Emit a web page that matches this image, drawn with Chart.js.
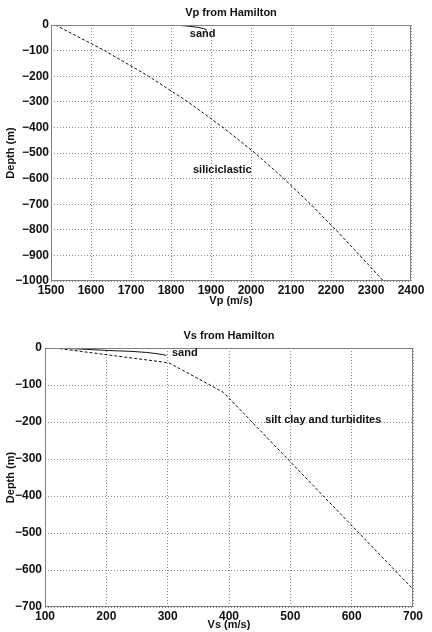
<!DOCTYPE html>
<html>
<head>
<meta charset="utf-8">
<script src="https://cdn.jsdelivr.net/npm/chart.js@4/dist/chart.umd.min.js"></script>
<style>
  body { margin: 0; background: #fff; }
  canvas { position: absolute; left: 0; }
</style>
</head>
<body>
<canvas id="chartVp" width="432" height="316" style="top:0"></canvas>
<canvas id="chartVs" width="432" height="316" style="top:316px"></canvas>
<script>
// Vp panel (m/s vs depth m)
const vpDepth = [0, -100, -200, -300, -400, -500, -600, -700, -800, -900, -1000];
const vpSiliciclastic = [1511, 1634, 1744, 1842, 1930, 2010, 2082, 2149, 2212, 2272, 2331];
const vpSandDepth = [0, -4, -9, -14, -20];
const vpSand = [1806, 1840, 1866, 1882, 1890];

// Vs panel
const vsSiltDepth = [0, -40, -120, -650];
const vsSilt = [116, 302, 391, 699];
const vsSandDepth = [0, -3, -7, -9, -12, -16, -20];
const vsSand = [116, 160, 206, 240, 266, 285, 298];

const toPoints = (xs, ys) => xs.map((x, i) => ({ x: x, y: ys[i] }));
const fmtTick = (v) => String(v).replace("-", "\u2212");

const textColor = "#111";
const tickFont = { family: "'Liberation Sans Narrow', 'Liberation Sans'", size: 12, weight: "bold" };
const labelFont = { family: "Liberation Sans", size: 11, weight: "bold" };

// box round the plot area, the panel title and the in-plot labels
const framePlugin = {
  id: "frame",
  afterDatasetsDraw(chart, args, opts) {
    const { ctx, chartArea: a } = chart;
    ctx.save();
    ctx.strokeStyle = "#808080";
    ctx.lineWidth = 1;
    ctx.strokeRect(Math.round(a.left) + 0.5, Math.round(a.top) + 0.5,
      Math.round(a.width) - 1, Math.round(a.height) - 1);

    ctx.fillStyle = textColor;
    ctx.font = "bold 11px 'Liberation Sans'";
    ctx.textBaseline = "middle";
    ctx.textAlign = "center";
    ctx.fillText(opts.title, (a.left + a.right) / 2, opts.titleY);

    ctx.textAlign = "left";
    for (const note of opts.notes) {
      ctx.fillText(note.text, chart.scales.x.getPixelForValue(note.x),
        chart.scales.y.getPixelForValue(note.y));
    }
    ctx.restore();
  },
};

const makeChart = (id, cfg) => new Chart(document.getElementById(id), {
  type: "scatter",
  data: {
    datasets: [
      {
        data: cfg.main,
        showLine: true,
        borderColor: "#111",
        borderWidth: 1,
        borderDash: [3, 2],
        pointRadius: 0,
      },
      {
        data: cfg.sand,
        showLine: true,
        borderColor: "#111",
        borderWidth: 1,
        pointRadius: 0,
      },
    ],
  },
  options: {
    responsive: false,
    animation: false,
    layout: { padding: cfg.padding },
    plugins: {
      legend: { display: false },
      tooltip: { enabled: false },
      frame: { title: cfg.title, titleY: cfg.titleY, notes: cfg.notes },
    },
    scales: {
      x: {
        type: "linear",
        min: cfg.xMin,
        max: cfg.xMax,
        afterFit: (scale) => { scale.height = cfg.xHeight; },
        grid: { color: "#8a8a8a", drawTicks: false },
        border: { display: false, dash: [1, 2] },
        ticks: {
          stepSize: 100,
          maxRotation: 0,
          autoSkip: false,
          padding: 2,
          color: textColor,
          font: tickFont,
          callback: fmtTick,
        },
        title: {
          display: true,
          text: cfg.xTitle,
          color: textColor,
          font: labelFont,
          padding: { top: 0, bottom: cfg.xTitlePad },
        },
      },
      y: {
        type: "linear",
        min: cfg.yMin,
        max: 0,
        afterFit: (scale) => { scale.width = cfg.yWidth; },
        grid: { color: "#8a8a8a", drawTicks: false },
        border: { display: false, dash: [1, 2] },
        ticks: {
          stepSize: 100,
          autoSkip: false,
          padding: cfg.yTickPad,
          color: textColor,
          font: tickFont,
          callback: fmtTick,
        },
        title: {
          display: true,
          text: "Depth (m)",
          color: textColor,
          font: labelFont,
          padding: { top: 4, bottom: 0 },
        },
      },
    },
  },
  plugins: [framePlugin],
});

makeChart("chartVp", {
  main: toPoints(vpSiliciclastic, vpDepth),
  sand: toPoints(vpSand, vpSandDepth),
  xMin: 1500,
  xMax: 2400,
  yMin: -1000,
  xTitle: "Vp (m/s)",
  title: "Vp from Hamilton",
  titleY: 13,
  notes: [
    { text: "sand", x: 1847, y: -35 },
    { text: "siliciclastic", x: 1855, y: -566 },
  ],
  padding: { top: 25, right: 21, bottom: 0, left: 0 },
  xHeight: 35,
  yWidth: 51,
  yTickPad: 2,
  xTitlePad: 8,
});

makeChart("chartVs", {
  main: toPoints(vsSilt, vsSiltDepth),
  sand: toPoints(vsSand, vsSandDepth),
  xMin: 100,
  xMax: 700,
  yMin: -700,
  xTitle: "Vs (m/s)",
  title: "Vs from Hamilton",
  titleY: 20,
  notes: [
    { text: "sand", x: 307, y: -14 },
    { text: "silt clay and turbidites", x: 459, y: -195 },
  ],
  padding: { top: 32, right: 19, bottom: 0, left: 0 },
  xHeight: 25,
  yWidth: 45,
  yTickPad: 3,
  xTitlePad: 0,
});
</script>
</body>
</html>
